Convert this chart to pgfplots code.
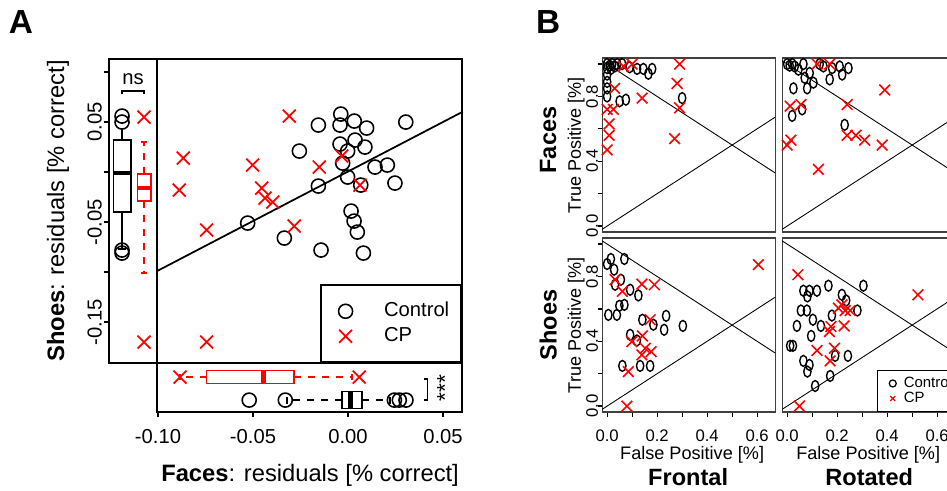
\documentclass[border=0pt]{standalone}
\usepackage{fontspec}
\setmainfont{Liberation Sans}
\usepackage{pgfplots}
\pgfplotsset{compat=1.18}
\usepgfplotslibrary{statistics}

% picture is laid out in pixels of the reference: 1px = 0.02cm
\tikzset{whis/.style={dash pattern=on 0.14cm off 0.14cm}}
\pgfplotsset{
  base/.style={scale only axis, axis line style={line width=0.9pt},
    tick style={line width=0.9pt, black}, tick align=outside,
    major tick length=0.1cm, clip mode=individual,
    xtick=\empty, ytick=\empty,
    tick label style={font=\fontsize{11.5}{13}\selectfont}},
  ctrlA/.style={only marks, mark=o, mark size=4pt, mark options={line width=0.9pt}, black},
  cpA/.style={only marks, mark=x, mark size=5.2pt, mark options={line width=1pt}, red},
  bpanel/.style={scale only axis, width=3.46cm, height=3.48cm,
    xmin=-0.02, xmax=0.672, ymin=-0.037, ymax=1.037,
    axis line style={line width=0.7pt, black!75},
    tick style={line width=0.7pt, black}, tick align=outside,
    major tick length=0.09cm, clip mode=individual,
    xtick=\empty, ytick=\empty,
    tick label style={font=\fontsize{9.5}{10}\selectfont}},
  bleft/.style={ytick={0,0.2,0.4,0.6,0.8,1}, yticklabels={0.0,,0.4,,0.8,},
    ytick pos=left, yticklabel style={rotate=90, anchor=south},
    yticklabel shift=-0.13cm},
  bbottom/.style={xtick={0,0.1,0.2,0.3,0.4,0.5,0.6},
    xticklabels={0.0,,0.2,,0.4,,0.6}, xtick pos=bottom, xticklabel shift=0.15cm},
  ctrlB/.style={only marks, mark=o, mark size=3.1pt, mark options={xscale=0.67, line width=0.8pt}, black},
  cpB/.style={only marks, mark=x, mark size=4.3pt, mark options={line width=0.9pt}, red},
  diag/.style={black, line width=0.5pt},
  legA/.style={legend image code/.code={\path[draw=none] (0cm,0cm) -- (1.02cm,0cm);
      \draw[##1, only marks] plot coordinates {(0.25cm,0cm)};}},
  legB/.style={legend image code/.code={\path[draw=none] (0cm,0cm) -- (0.37cm,0cm);
      \draw[##1, only marks, mark size=2pt, mark options={xscale=1}] plot coordinates {(0.15cm,0cm)};}},
}

\begin{document}
\begin{tikzpicture}
\path[use as bounding box] (0,0) rectangle (18.94cm,9.8cm);

\begin{scope}[x=0.02cm, y=-0.02cm, yshift=9.8cm]
  \coordinate (cM) at (157,363);
  \coordinate (cL) at (109,363);
  \coordinate (cB) at (157,412);
  \coordinate (b1) at (602,232);
  \coordinate (b2) at (782,232);
  \coordinate (b3) at (602,412);
  \coordinate (b4) at (782,412);
\end{scope}

% ---------- panel A: scatter ----------
\begin{axis}[base, at={(cM)}, anchor=south west, width=6.1cm, height=6.08cm,
    xmin=-0.1005, xmax=0.06, ymin=-0.191, ymax=0.113,
    legend style={at={(1,0)}, anchor=south east, draw=black, line width=0.9pt,
      inner xsep=0.24cm, inner ysep=0.33cm, row sep=0.12cm,
      font=\fontsize{11.5}{13}\selectfont,
      nodes={inner sep=0pt, text height=0.3cm, text depth=0.08cm}},
    legend cell align=left]
  \addplot[black, line width=1pt, forget plot] coordinates {(-0.1005,-0.099) (0.060,0.060)};
  \addplot[ctrlA, legA] coordinates {
    (-0.0038,0.058) (-0.0156,0.047) (-0.0042,0.047) (0.0033,0.051) (0.0098,0.044)
    (0.0304,0.050) (-0.0256,0.021) (-0.0042,0.028) (0.0037,0.032) (0.0089,0.025)
    (-0.0002,0.021) (-0.0028,0.009) (0.0142,0.005) (0.0207,0.007) (-0.0002,-0.005)
    (-0.0156,-0.014) (0.0067,-0.013) (0.0247,-0.011) (0.0016,-0.039) (0.0032,-0.049)
    (0.0049,-0.060) (-0.0528,-0.051) (-0.0335,-0.066) (-0.0142,-0.078) (0.0081,-0.081)
  };
  \addlegendentry{Control}
  \addplot[cpA, legA] coordinates {
    (-0.0309,0.056) (-0.0867,0.014) (-0.0888,-0.018) (-0.0502,0.007) (-0.0151,0.005)
    (-0.0033,0.016) (-0.0454,-0.016) (-0.0437,-0.026) (-0.0396,-0.030) (0.0063,-0.013)
    (-0.0744,-0.058) (-0.0283,-0.054) (-0.0744,-0.170)
  };
  \addlegendentry{CP}
\end{axis}

% ---------- panel A: left boxplots (Shoes) ----------
% x: position in the strip (0..0.48), boxes drawn from their five numbers
\begin{axis}[base, at={(cL)}, anchor=south west, width=0.96cm, height=6.08cm,
    xmin=0, xmax=0.48, ymin=-0.191, ymax=0.113,
    ytick={-0.15,-0.1,-0.05,0,0.05,0.1}, yticklabels={-0.15,,-0.05,,0.05,},
    ytick pos=left, yticklabel style={rotate=90, anchor=south},
    yticklabel shift=-0.08cm]
  % Control: whiskers -0.077 / 0.0437, quartiles -0.0397 / 0.032, median -0.0013
  \addplot[black, line width=0.9pt] coordinates {(0.043,-0.0397) (0.217,-0.0397) (0.217,0.032) (0.043,0.032) (0.043,-0.0397)};
  \addplot[black, line width=2.2pt] coordinates {(0.043,-0.0013) (0.217,-0.0013)};
  \addplot[black, line width=0.9pt] coordinates {(0.13,0.032) (0.13,0.0437)};
  \addplot[black, line width=0.9pt] coordinates {(0.13,-0.0397) (0.13,-0.077)};
  \addplot[black, line width=0.9pt] coordinates {(0.0865,0.0437) (0.1735,0.0437)};
  \addplot[black, line width=0.9pt] coordinates {(0.0865,-0.077) (0.1735,-0.077)};
  % CP: whiskers -0.101 / 0.030, quartiles -0.029 / -0.002, median -0.016
  \addplot[red, line width=0.9pt] coordinates {(0.283,-0.029) (0.417,-0.029) (0.417,-0.002) (0.283,-0.002) (0.283,-0.029)};
  \addplot[red, line width=2.2pt] coordinates {(0.283,-0.016) (0.417,-0.016)};
  \addplot[red, line width=0.9pt, whis] coordinates {(0.35,-0.002) (0.35,0.030)};
  \addplot[red, line width=0.9pt, whis] coordinates {(0.35,-0.029) (0.35,-0.101)};
  \addplot[red, line width=0.9pt] coordinates {(0.3165,0.030) (0.3835,0.030)};
  \addplot[red, line width=0.9pt] coordinates {(0.3165,-0.101) (0.3835,-0.101)};
  \addplot[ctrlA] coordinates {(0.13,0.056) (0.13,0.050) (0.13,-0.078) (0.13,-0.081)};
  \addplot[cpA] coordinates {(0.35,0.055) (0.35,-0.170)};
\end{axis}

% ---------- panel A: bottom boxplots (Faces) ----------
\begin{axis}[base, at={(cB)}, anchor=south west, width=6.1cm, height=0.98cm,
    xmin=-0.1005, xmax=0.06, ymin=0, ymax=0.49,
    xtick={-0.1,-0.05,0,0.05}, xticklabels={-0.10,-0.05,0.00,0.05},
    xtick pos=bottom, xticklabel shift=0.12cm]
  \addplot[black, line width=0.9pt, boxplot/every median/.style={line width=2.8pt},
    boxplot/every whisker/.style={whis},
    boxplot prepared={draw direction=x, draw position=0.12, lower whisker=-0.032,
      lower quartile=-0.0033, median=0.0013, upper quartile=0.0075,
      upper whisker=0.022, box extend=0.17, whisker extend=0.085}] coordinates {};
  \addplot[red, line width=0.9pt, boxplot/every median/.style={line width=2.8pt},
    boxplot/every whisker/.style={whis},
    boxplot prepared={draw direction=x, draw position=0.35, lower whisker=-0.0884,
      lower quartile=-0.0744, median=-0.0445, upper quartile=-0.0284,
      upper whisker=0.002, box extend=0.13, whisker extend=0.065}] coordinates {};
  \addplot[ctrlA] coordinates {(-0.052,0.12) (-0.033,0.12) (0.0244,0.12) (0.027,0.12) (0.0305,0.12)};
  \addplot[cpA] coordinates {(-0.0884,0.35) (0.0059,0.35)};
\end{axis}

% ---------- panel B: Faces, Frontal ----------
\begin{axis}[bpanel, bleft, at={(b1)}, anchor=south west]
  \addplot[diag] coordinates {(-0.02,-0.02) (0.672,0.672)};
  \addplot[diag] coordinates {(-0.02,1.02) (0.672,0.328)};
  \addplot[ctrlB] coordinates {
    (0.0,1.0) (0.0,0.975) (0.0,0.935) (0.0,0.89) (0.0,0.85) (0.0,0.80)
    (0.02,1.0) (0.04,1.0) (0.06,1.0) (0.015,0.97) (0.01,0.99) (0.03,0.985)
    (0.09,0.98) (0.12,0.97) (0.145,0.97) (0.18,0.97) (0.165,0.94)
    (0.05,0.77) (0.075,0.78) (0.30,0.79)
  };
  \addplot[cpB] coordinates {
    (0.10,1.0) (0.065,0.985) (0.29,1.0) (0.28,0.88) (0.03,0.85) (0.14,0.79)
    (0.29,0.73) (0.0,0.72) (0.025,0.72) (0.008,0.63) (0.008,0.56) (0.0,0.47) (0.27,0.54)
  };
\end{axis}

% ---------- panel B: Faces, Rotated ----------
\begin{axis}[bpanel, at={(b2)}, anchor=south west]
  \addplot[diag] coordinates {(-0.02,-0.02) (0.672,0.672)};
  \addplot[diag] coordinates {(-0.02,1.02) (0.672,0.328)};
  \addplot[ctrlB] coordinates {
    (0.0,1.0) (0.01,0.99) (0.02,1.0) (0.03,0.985) (0.045,0.965) (0.065,1.0)
    (0.09,0.945) (0.07,0.915) (0.13,1.0) (0.145,0.985) (0.18,0.975) (0.21,0.985)
    (0.245,0.975) (0.22,0.935) (0.17,0.905) (0.025,0.85) (0.08,0.85) (0.105,0.885)
    (0.02,0.68) (0.06,0.72) (0.23,0.625)
  };
  \addplot[cpB] coordinates {
    (0.12,1.0) (0.17,1.0) (0.39,0.84) (0.24,0.75) (0.012,0.74) (0.055,0.75)
    (0.015,0.53) (0.0,0.50) (0.24,0.56) (0.275,0.56) (0.31,0.53) (0.38,0.50) (0.125,0.35)
  };
\end{axis}

% ---------- panel B: Shoes, Frontal ----------
\begin{axis}[bpanel, bleft, bbottom, at={(b3)}, anchor=south west]
  \addplot[diag] coordinates {(-0.02,-0.02) (0.672,0.672)};
  \addplot[diag] coordinates {(-0.02,1.02) (0.672,0.328)};
  \addplot[ctrlB] coordinates {
    (0.015,0.908) (0.0,0.877) (0.069,0.908) (0.028,0.842) (0.055,0.78) (0.032,0.749)
    (0.092,0.718) (0.125,0.683) (0.069,0.625) (0.049,0.619) (0.005,0.563) (0.039,0.563)
    (0.141,0.533) (0.236,0.557) (0.185,0.502) (0.228,0.471) (0.303,0.495) (0.092,0.44)
    (0.119,0.405) (0.061,0.248) (0.132,0.248) (0.172,0.248)
  };
  \addplot[cpB] coordinates {
    (0.605,0.873) (0.032,0.78) (0.061,0.708) (0.139,0.753) (0.189,0.749) (0.172,0.533)
    (0.141,0.433) (0.099,0.398) (0.139,0.316) (0.176,0.336) (0.085,0.213) (0.079,0.0)
    (0.152,0.357)
  };
\end{axis}

% ---------- panel B: Shoes, Rotated ----------
\begin{axis}[bpanel, bbottom, at={(b4)}, anchor=south west,
    legend style={at={(0.549,0)}, anchor=south west, draw=black, line width=0.7pt,
      inner xsep=0.15cm, inner ysep=0.135cm, row sep=0.05cm,
      font=\fontsize{8.5}{9}\selectfont,
      nodes={inner sep=0pt, text height=0.2cm, text depth=0.05cm}},
    legend cell align=left]
  \addplot[diag, forget plot] coordinates {(-0.02,-0.02) (0.672,0.672)};
  \addplot[diag, forget plot] coordinates {(-0.02,1.02) (0.672,0.328)};
  \addplot[ctrlB, legB] coordinates {
    (0.165,0.743) (0.305,0.743) (0.065,0.712) (0.089,0.712) (0.119,0.712) (0.081,0.677)
    (0.219,0.687) (0.236,0.652) (0.055,0.59) (0.079,0.59) (0.103,0.533) (0.179,0.559)
    (0.281,0.59) (0.039,0.495) (0.135,0.495) (0.096,0.433) (0.012,0.372) (0.023,0.372)
    (0.065,0.279) (0.089,0.254) (0.081,0.213) (0.192,0.31) (0.243,0.31) (0.172,0.186)
    (0.112,0.124)
  };
  \addlegendentry{Control}
  \addplot[cpB, legB] coordinates {
    (0.043,0.811) (0.523,0.687) (0.205,0.605) (0.219,0.625) (0.252,0.59) (0.232,0.59)
    (0.175,0.491) (0.169,0.46) (0.228,0.495) (0.119,0.343) (0.189,0.357) (0.172,0.279)
    (0.049,0.0)
  };
  \addlegendentry{CP}
\end{axis}

% ---------- labels and annotations ----------
\begin{scope}[x=0.02cm, y=-0.02cm, yshift=9.8cm]
  \node[font=\fontsize{19}{20}\selectfont\bfseries] at (21,22) {A};
  \node[font=\fontsize{19}{20}\selectfont\bfseries] at (548,22) {B};
  \node[rotate=90, font=\fontsize{13.5}{15}\selectfont] at (58,211)
    {\textbf{Shoes}: residuals [\% correct]};
  \node[font=\fontsize{13.5}{15}\selectfont] at (310,475)
    {\textbf{Faces}: residuals [\% correct]};
  \node[font=\fontsize{11.5}{13}\selectfont] at (133,79) {ns};
  \draw[line width=0.9pt] (122,94) -- (122,91) -- (144,91) -- (144,94);
  \draw[line width=0.9pt] (424,379) -- (427.5,379) -- (427.5,400) -- (424,400);
  \node[rotate=90, font=\fontsize{13}{14}\selectfont] at (445,388) {***};
  \node[rotate=90, font=\fontsize{13.4}{15}\selectfont\bfseries] at (548,140) {Faces};
  \node[rotate=90, font=\fontsize{13.4}{15}\selectfont\bfseries] at (548,325) {Shoes};
  \node[rotate=90, font=\fontsize{10.3}{12}\selectfont] at (576,145) {True Positive [\%]};
  \node[rotate=90, font=\fontsize{10.3}{12}\selectfont] at (576,325) {True Positive [\%]};
  \node[font=\fontsize{10.3}{12}\selectfont] at (692,455) {False Positive [\%]};
  \node[font=\fontsize{10.3}{12}\selectfont] at (868,455) {False Positive [\%]};
  \node[font=\fontsize{13.4}{15}\selectfont\bfseries] at (688,477) {Frontal};
  \node[font=\fontsize{13.4}{15}\selectfont\bfseries] at (869,477) {Rotated};
\end{scope}
\end{tikzpicture}
\end{document}
